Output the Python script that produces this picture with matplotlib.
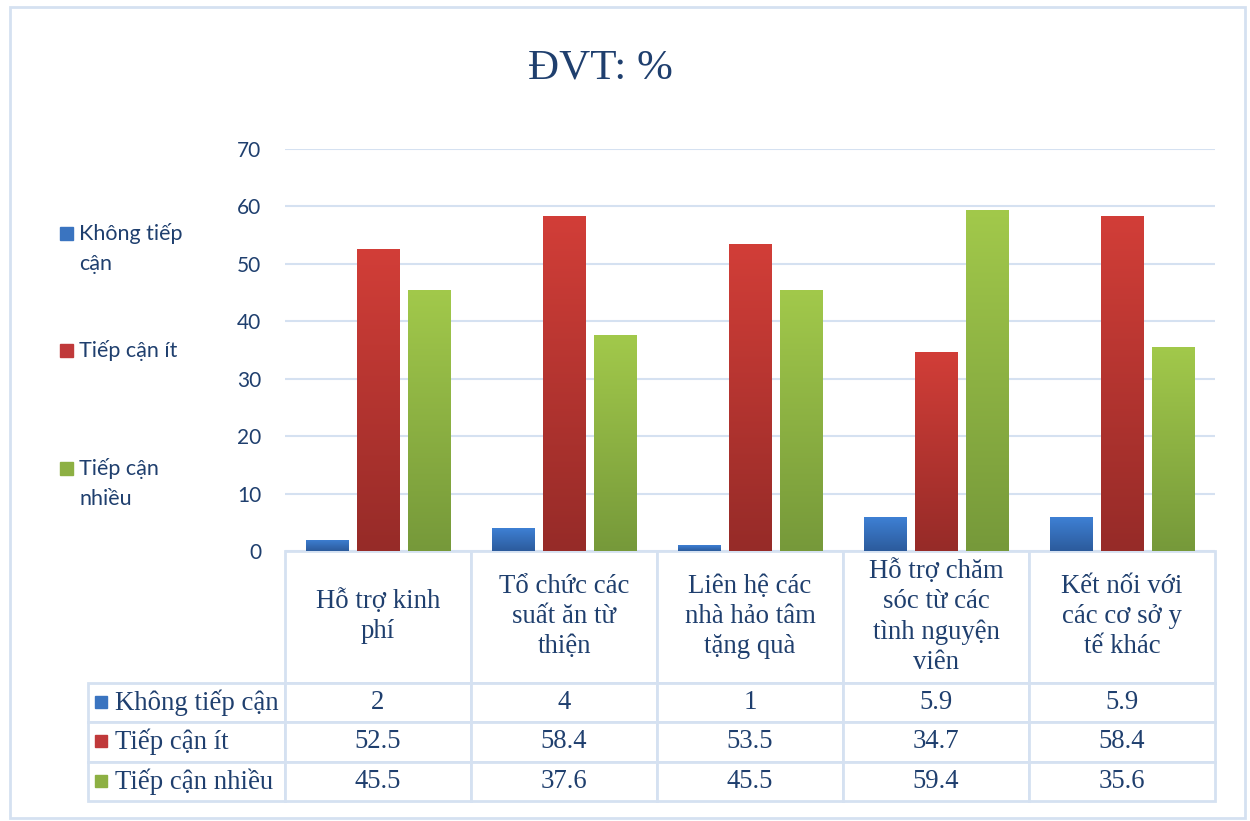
import numpy as np
import matplotlib.pyplot as plt
from matplotlib.colors import LinearSegmentedColormap
from matplotlib.patches import Rectangle

categories = ["Hỗ trợ kinh\nphí", "Tổ chức các\nsuất ăn từ\nthiện",
              "Liên hệ các\nnhà hảo tâm\ntặng quà",
              "Hỗ trợ chăm\nsóc từ các\ntình nguyện\nviên",
              "Kết nối với\ncác cơ sở y\ntế khác"]
series_names = ["Không tiếp cận", "Tiếp cận ít", "Tiếp cận nhiều"]
legend_labels = ["Không tiếp\ncận", "Tiếp cận ít", "Tiếp cận\nnhiều"]
khong_tiep_can = [2, 4, 1, 5.9, 5.9]
tiep_can_it = [52.5, 58.4, 53.5, 34.7, 58.4]
tiep_can_nhieu = [45.5, 37.6, 45.5, 59.4, 35.6]
yticks = [0, 10, 20, 30, 40, 50, 60, 70]

top_colors = ['#3E80D4', '#D23E38', '#A2C94B']
bottom_colors = ['#2C5B9C', '#962B28', '#76993A']
swatch = ['#3A74C0', '#C0393A', '#8DB043']
navy = '#1F3F6E'
line_c = '#D5E1F1'
serif = ['Liberation Serif', 'DejaVu Serif']
sans = ['Lato', 'DejaVu Sans']

series = [khong_tiep_can, tiep_can_it, tiep_can_nhieu]

fig = plt.figure(figsize=(12.5, 8.21), dpi=100)
ax = fig.add_axes([285 / 1250, 270 / 821, 930 / 1250, 402 / 821])

x = np.arange(len(categories))
width = 0.226
offsets = [-0.274, 0, 0.274]
grad = np.linspace(0, 1, 256).reshape(-1, 1)
for vals, off, tc, bc in zip(series, offsets, top_colors, bottom_colors):
    cmap = LinearSegmentedColormap.from_list('g', [bc, tc])
    bars = ax.bar(x + off, vals, width, color=tc, zorder=2)
    for b in bars:
        im = ax.imshow(grad, cmap=cmap, origin='lower', aspect='auto', zorder=3,
                       extent=[b.get_x(), b.get_x() + b.get_width(), 0, b.get_height()])
        im.set_clip_path(b)

ax.set_xlim(-0.5, len(categories) - 0.5)
ax.set_ylim(0, 70)
ax.set_yticks(yticks)
ax.set_xticks([])
ax.grid(axis='y', color=line_c, linewidth=1.5, zorder=0)
ax.set_axisbelow(True)
for s in ax.spines.values():
    s.set_visible(False)
ax.tick_params(axis='y', length=0, pad=17, labelsize=15, labelcolor=navy)
for lbl in ax.get_yticklabels():
    lbl.set_family(sans)

# data table under the plot (first column holds the series names)
cell_text = [[name] + [f"{v:g}" for v in vals] for name, vals in zip(series_names, series)]
tbl = ax.table(cellText=cell_text, colLabels=[''] + categories,
               cellLoc='center', colLoc='center',
               bbox=[-197 / 930, -250 / 402, 1127 / 930, 250 / 402])
tbl.auto_set_font_size(False)
for (r, c), cell in tbl.get_celld().items():
    cell.set_edgecolor(line_c)
    cell.set_linewidth(2)
    cell.set_width(197 if c == 0 else 186)
    cell.set_height(132 if r == 0 else 39.5)
    t = cell.get_text()
    t.set_fontsize(19.3)
    t.set_family(serif)
    t.set_color(navy)
    if r == 0:
        t.set_linespacing(1.26)
    if c == 0:
        if r == 0:
            cell.set_edgecolor('none')
        else:
            t.set_horizontalalignment('left')
            cell._loc = 'left'
            cell.PAD = 0.135

# swatches in row labels
row_y = [702, 741, 781]
for yy, col in zip(row_y, swatch):
    fig.add_artist(Rectangle((95 / 1250, 1 - (yy + 6) / 821), 12 / 1250, 12 / 821,
                             transform=fig.transFigure, color=col))

# legend on the left
leg_y = [233, 350, 468]
for yy, col, lab in zip(leg_y, swatch, legend_labels):
    fig.add_artist(Rectangle((60 / 1250, 1 - (yy + 7) / 821), 13 / 1250, 13 / 821,
                             transform=fig.transFigure, color=col))
    fig.text(79 / 1250, 1 - (yy - 10) / 821, lab, ha='left', va='top',
             fontsize=15.5, family=sans, color=navy, linespacing=1.65)

fig.text(600 / 1250, 1 - 68 / 821, "ĐVT: %", ha='center', va='center',
         fontsize=31, family=serif, color=navy)

fig.add_artist(Rectangle((10 / 1250, 3 / 821), 1235 / 1250, 811 / 821,
                         transform=fig.transFigure, fill=False,
                         edgecolor=line_c, linewidth=2))

fig.savefig('out.png', dpi=100)
